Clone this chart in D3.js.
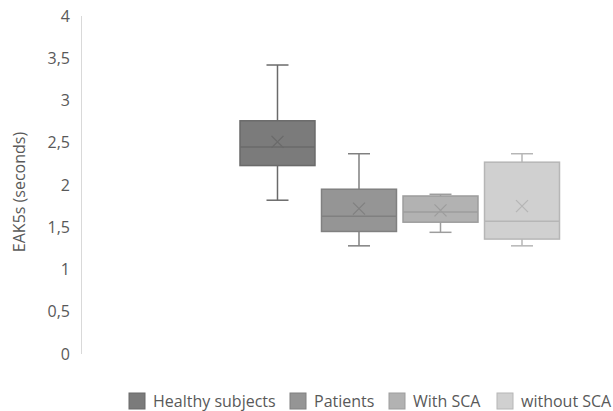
<!DOCTYPE html>
<html>
<head>
<meta charset="utf-8">
<script src="https://cdn.jsdelivr.net/npm/d3@7"></script>
<style>
html,body{margin:0;padding:0;background:#fff;}
svg{display:block;}
text{font-family:"Open Sans",sans-serif;fill:#595959;}
</style>
</head>
<body>
<svg id="chart" width="613" height="411"></svg>
<script>
const series = ["Healthy subjects", "Patients", "With SCA", "without SCA"];
const mins    = [1.82, 1.28, 1.44, 1.28];
const q1s     = [2.23, 1.45, 1.56, 1.36];
const medians = [2.45, 1.63, 1.68, 1.57];
const q3s     = [2.76, 1.95, 1.87, 2.27];
const maxs    = [3.42, 2.37, 1.89, 2.37];
const means   = [2.51, 1.72, 1.70, 1.75];
const yTicks  = [0, 0.5, 1, 1.5, 2, 2.5, 3, 3.5, 4];
const yTitle  = "EAK5s (seconds)";

const fills   = ["#7b7b7b", "#959595", "#b2b2b2", "#d0d0d0"];
const strokes = ["#6a6a6a", "#808080", "#9d9d9d", "#b6b6b6"];

const svg = d3.select("#chart");
const y = d3.scaleLinear().domain([0, 4]).range([354, 16]);
const x = d3.scaleBand().domain(series).range([240, 559.5]).paddingInner(0.08).paddingOuter(0);

// y axis line
svg.append("line").attr("x1", 81.5).attr("x2", 81.5).attr("y1", y(4)).attr("y2", y(0))
  .attr("stroke", "#d9d9d9").attr("stroke-width", 1);

// tick labels
const fmt = d => String(d).replace(".", ",");
svg.append("g").selectAll("text").data(yTicks).join("text")
  .attr("x", 70).attr("y", d => y(d)).attr("dy", "0.35em")
  .attr("text-anchor", "end").attr("font-size", 16).text(fmt);

// y title
svg.append("text").attr("transform", `translate(25,${192}) rotate(-90)`)
  .attr("text-anchor", "middle").attr("font-size", 16).text(yTitle);

const data = series.map((s, i) => ({s, i, min: mins[i], q1: q1s[i], med: medians[i], q3: q3s[i], max: maxs[i], mean: means[i]}));
const g = svg.append("g").selectAll("g").data(data).join("g");
const bw = x.bandwidth();
const capW = 22;

// whiskers
g.append("line").attr("x1", d => x(d.s) + bw / 2).attr("x2", d => x(d.s) + bw / 2)
  .attr("y1", d => y(d.max)).attr("y2", d => y(d.q3)).attr("stroke", d => strokes[d.i]).attr("stroke-width", 1.5);
g.append("line").attr("x1", d => x(d.s) + bw / 2).attr("x2", d => x(d.s) + bw / 2)
  .attr("y1", d => y(d.q1)).attr("y2", d => y(d.min)).attr("stroke", d => strokes[d.i]).attr("stroke-width", 1.5);
g.append("line").attr("x1", d => x(d.s) + bw / 2 - capW / 2).attr("x2", d => x(d.s) + bw / 2 + capW / 2)
  .attr("y1", d => y(d.max)).attr("y2", d => y(d.max)).attr("stroke", d => strokes[d.i]).attr("stroke-width", 1.5);
g.append("line").attr("x1", d => x(d.s) + bw / 2 - capW / 2).attr("x2", d => x(d.s) + bw / 2 + capW / 2)
  .attr("y1", d => y(d.min)).attr("y2", d => y(d.min)).attr("stroke", d => strokes[d.i]).attr("stroke-width", 1.5);

// boxes
g.append("rect").attr("x", d => x(d.s)).attr("width", bw)
  .attr("y", d => y(d.q3)).attr("height", d => y(d.q1) - y(d.q3))
  .attr("fill", d => fills[d.i]).attr("stroke", d => strokes[d.i]).attr("stroke-width", 1.5);
// median
g.append("line").attr("x1", d => x(d.s)).attr("x2", d => x(d.s) + bw)
  .attr("y1", d => y(d.med)).attr("y2", d => y(d.med)).attr("stroke", d => strokes[d.i]).attr("stroke-width", 1.5);
// mean X
const xs = 6;
g.append("path").attr("d", d => {
  const cx = x(d.s) + bw / 2, cy = y(d.mean);
  return `M${cx - xs},${cy - xs}L${cx + xs},${cy + xs}M${cx - xs},${cy + xs}L${cx + xs},${cy - xs}`;
}).attr("stroke", d => strokes[d.i]).attr("stroke-width", 1.3).attr("fill", "none");

// legend
const legX = [129, 290, 389, 497];
const leg = svg.append("g").selectAll("g").data(data).join("g")
  .attr("transform", d => `translate(${legX[d.i]},${393})`);
leg.append("rect").attr("x", 0).attr("y", 0).attr("width", 16).attr("height", 16)
  .attr("fill", d => fills[d.i]).attr("stroke", d => strokes[d.i]).attr("stroke-width", 1);
leg.append("text").attr("x", 24).attr("y", 8).attr("dy", "0.35em").attr("font-size", 16).text(d => d.s);
</script>
</body>
</html>
